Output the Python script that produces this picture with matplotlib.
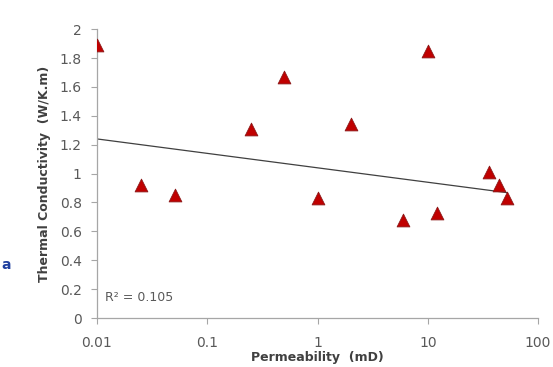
import matplotlib.pyplot as plt
import numpy as np

# values
permeability = [0.01, 0.025, 0.051, 0.25, 0.5, 1.0, 2.0, 6.0, 10.0, 12.0, 36.0, 44.0, 52.0]
conductivity = [1.89, 0.92, 0.85, 1.31, 1.67, 0.83, 1.34, 0.68, 1.85, 0.73, 1.01, 0.92, 0.83]
# logarithmic trend line as drawn in the reference (value at x=0.01, slope per decade)
trend_at_001 = 1.24
trend_slope_per_decade = -0.10
xticks = [0.01, 0.1, 1, 10, 100]
xticklabels = ['0.01', '0.1', '1', '10', '100']
yticks = [0, 0.2, 0.4, 0.6, 0.8, 1, 1.2, 1.4, 1.6, 1.8, 2]
yticklabels = ['0', '0.2', '0.4', '0.6', '0.8', '1', '1.2', '1.4', '1.6', '1.8', '2']

x = np.array(permeability)
y = np.array(conductivity)

xt = np.array([x.min(), x.max()])
yt = trend_at_001 + trend_slope_per_decade * (np.log10(xt) + 2)

fig = plt.figure(figsize=(5.53, 3.67), dpi=100)
ax = fig.add_axes([0.1754, 0.1335, 0.7976, 0.787])

ax.plot(xt, yt, color='#404040', lw=0.9, zorder=2)
ax.scatter(x, y, marker='^', s=85, color='#c00000', edgecolors='#8b1a1a',
           linewidths=0.6, zorder=3)

ax.set_xscale('log')
ax.set_xlim(0.01, 100)
ax.set_ylim(0, 2)
ax.set_xticks(xticks)
ax.set_xticklabels(xticklabels)
ax.set_yticks(yticks)
ax.set_yticklabels(yticklabels)
ax.minorticks_off()

for s in ['top', 'right']:
    ax.spines[s].set_visible(False)
for s in ['left', 'bottom']:
    ax.spines[s].set_color('#a6a6a6')
    ax.spines[s].set_linewidth(0.9)
ax.tick_params(colors='#a6a6a6', labelcolor='#595959', labelsize=10,
               length=4, width=0.8)
ax.tick_params(axis='x', pad=9)
ax.tick_params(axis='y', pad=7)

ax.set_ylabel('Thermal Conductivity  (W/K.m)', fontsize=9, fontweight='bold',
              color='#404040', labelpad=6)
ax.set_xlabel('Permeability  (mD)', fontsize=9, fontweight='bold',
              color='#404040', labelpad=1)

ax.text(0.0118, 0.14, 'R² = 0.105', fontsize=9, color='#595959',
        va='center', ha='left')

# clipped link text at the left edge of the screenshot
fig.text(0.003, 0.278, 'a', color='#1f3f9f', fontsize=10, va='center',
         ha='left', fontweight='bold')

fig.savefig('out.png', dpi=100)
